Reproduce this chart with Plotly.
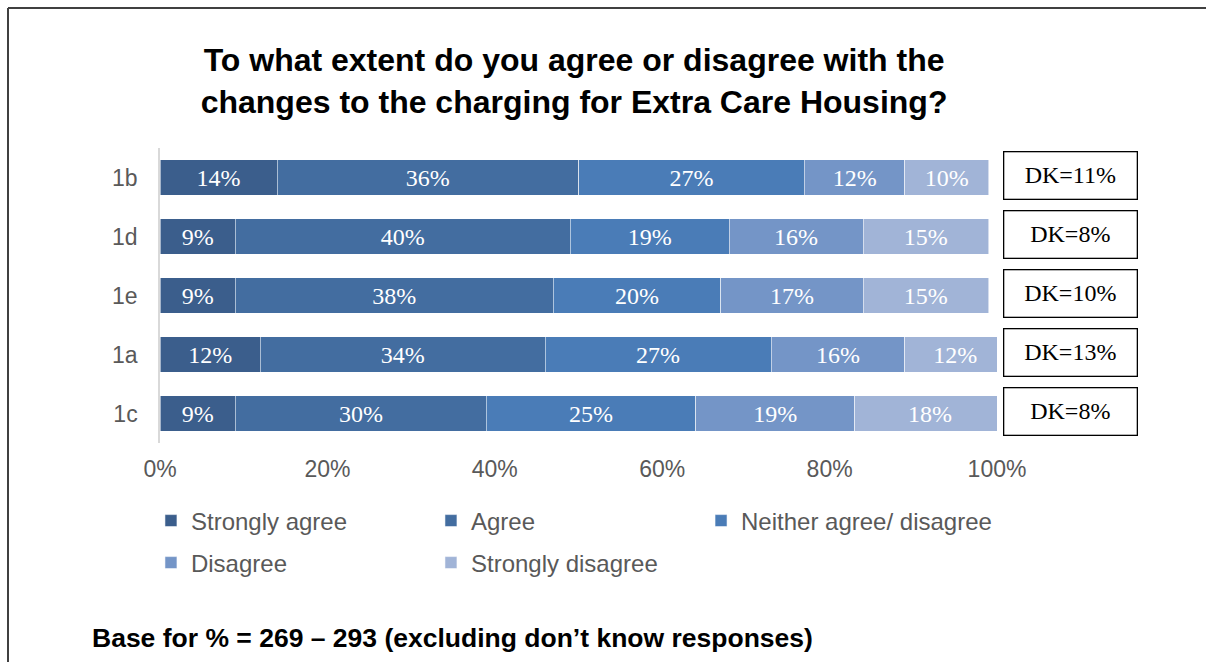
import plotly.graph_objects as go

# ---- data ----
questions = ["1b", "1d", "1e", "1a", "1c"]
series_names = ["Strongly agree", "Agree", "Neither agree/ disagree", "Disagree", "Strongly disagree"]
strongly_agree = [14, 9, 9, 12, 9]
agree = [36, 40, 38, 34, 30]
neither = [27, 19, 20, 27, 25]
disagree = [12, 16, 17, 16, 19]
strongly_disagree = [10, 15, 15, 12, 18]
dont_know = [11, 8, 10, 13, 8]
x_ticks = [0, 20, 40, 60, 80, 100]
x_tick_labels = ["0%", "20%", "40%", "60%", "80%", "100%"]

title_text = "To what extent do you agree or disagree with the<br>changes to the charging for Extra Care Housing?"
footer_text = "Base for % = 269 – 293 (excluding don’t know responses)"

colors = ["#3B5E8C", "#436DA0", "#4A7CB7", "#7495C7", "#A1B4D7"]
series_values = [strongly_agree, agree, neither, disagree, strongly_disagree]
legend_ids = ["legend", "legend", "legend3", "legend2", "legend2"]

SANS = "Liberation Sans, Arial, sans-serif"
SERIF = "Liberation Serif, Cambria, serif"

fig = go.Figure()
for name, vals, col, lg in zip(series_names, series_values, colors, legend_ids):
    fig.add_trace(go.Bar(
        y=questions, x=vals, name=name, orientation="h",
        marker=dict(color=col, line=dict(color="rgba(255,255,255,0.55)", width=1)),
        text=[f"{v}%" for v in vals], textposition="inside", insidetextanchor="middle",
        textangle=0, textfont=dict(family=SERIF, size=24, color="white"),
        legend=lg, hoverinfo="skip",
    ))

annotations = []
for q, dk in zip(questions, dont_know):
    annotations.append(dict(
        xref="paper", yref="y", x=1.0884, y=q, yshift=2, xanchor="center", yanchor="middle",
        text=f"DK={dk}%", showarrow=False,
        font=dict(family=SERIF, size=24, color="black"),
        bordercolor="black", borderwidth=1.3, borderpad=2,
        width=128, height=42, bgcolor="white", align="center",
    ))
annotations.append(dict(
    xref="paper", yref="paper", x=-0.0836, y=-0.661, xanchor="left", yanchor="middle",
    text=f"<b>{footer_text}</b>", showarrow=False,
    font=dict(family=SANS, size=26.5, color="black"),
))

shapes = [
    dict(type="line", xref="paper", yref="paper", x0=-0.1816, x1=1.35, y0=1.4746, y1=1.4746,
         line=dict(color="#404040", width=2)),
    dict(type="line", xref="paper", yref="paper", x0=-0.1816, x1=-0.1816, y0=1.4746, y1=-0.9,
         line=dict(color="#404040", width=2)),
]

legend_font = dict(family=SANS, size=24, color="#595959")
fig.update_layout(
    width=1206, height=662,
    margin=dict(l=160, r=209, t=148, b=219),
    paper_bgcolor="white", plot_bgcolor="white",
    barmode="stack", bargap=0.4,
    title=dict(text=f"<b>{title_text}</b>", x=0.476, xref="container", xanchor="center",
               y=0.892, yref="container", yanchor="top",
               font=dict(family=SANS, size=32, color="black")),
    xaxis=dict(range=[0, 100], tickvals=x_ticks, ticktext=x_tick_labels, showgrid=False,
               zeroline=False, showline=False, ticks="", ticklabelstandoff=10,
               tickfont=dict(family=SANS, size=23, color="#595959"), fixedrange=True),
    yaxis=dict(categoryorder="array", categoryarray=questions[::-1], showgrid=False,
               showline=True, linecolor="#D9D9D9", linewidth=1.5, ticks="",
               ticklabelstandoff=16,
               tickfont=dict(family=SANS, size=23, color="#595959"), fixedrange=True),
    legend=dict(orientation="h", x=-0.0108, y=-0.2644, xanchor="left", yanchor="middle",
                entrywidth=235, entrywidthmode="pixels", traceorder="normal",
                font=legend_font, bgcolor="rgba(0,0,0,0)"),
    legend3=dict(orientation="h", x=0.6464, y=-0.2644, xanchor="left", yanchor="middle",
                 traceorder="normal", font=legend_font, bgcolor="rgba(0,0,0,0)"),
    legend2=dict(orientation="h", x=-0.0108, y=-0.4068, xanchor="left", yanchor="middle",
                 entrywidth=235, entrywidthmode="pixels", traceorder="normal",
                 font=legend_font, bgcolor="rgba(0,0,0,0)"),
    annotations=annotations, shapes=shapes,
    showlegend=True,
)

fig.write_html("out.html")
